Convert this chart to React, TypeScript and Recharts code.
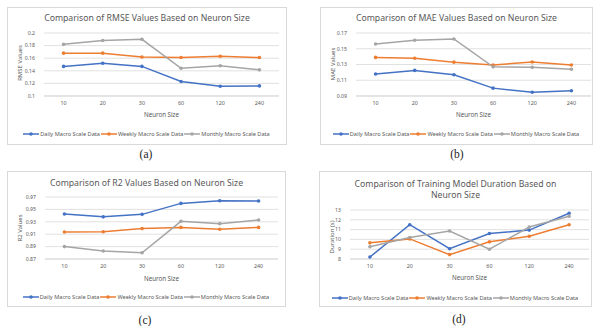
import React from 'react'
import { LineChart, Line, XAxis, YAxis, CartesianGrid } from 'recharts'

const neuronSizes = ['10', '20', '30', '60', '120', '240']
const seriesNames = ['Daily Macro Scale Data', 'Weekly Macro Scale Data', 'Monthly Macro Scale Data']

const rmseDaily = [0.147, 0.152, 0.147, 0.123, 0.1155, 0.116]
const rmseWeekly = [0.168, 0.168, 0.162, 0.161, 0.163, 0.161]
const rmseMonthly = [0.182, 0.188, 0.19, 0.144, 0.148, 0.1415]
const rmseTicks = [0.1, 0.12, 0.14, 0.16, 0.18, 0.2]

const maeDaily = [0.118, 0.1225, 0.117, 0.1, 0.0947, 0.0967]
const maeWeekly = [0.139, 0.138, 0.133, 0.1294, 0.1332, 0.1294]
const maeMonthly = [0.156, 0.1607, 0.1624, 0.127, 0.1264, 0.124]
const maeTicks = [0.09, 0.11, 0.13, 0.15, 0.17]

const r2Daily = [0.9425, 0.938, 0.942, 0.9597, 0.964, 0.9635]
const r2Weekly = [0.9135, 0.914, 0.919, 0.921, 0.918, 0.921]
const r2Monthly = [0.89, 0.883, 0.88, 0.9307, 0.927, 0.933]
const r2Ticks = [0.87, 0.89, 0.91, 0.93, 0.95, 0.97]

const durDaily = [8.2, 11.5, 9.05, 10.6, 10.95, 12.67]
const durWeekly = [9.65, 10.05, 8.45, 9.75, 10.32, 11.5]
const durMonthly = [9.25, 10.2, 10.85, 9.0, 11.26, 12.37]
const durTicks = [8, 9, 10, 11, 12, 13]

const COLORS = ['#4472C4', '#ED7D31', '#A5A5A5']
const TEXT = '#595959'
const GRID = '#D9D9D9'
const FONT = "'Noto Sans', sans-serif"

const build = (a: number[], b: number[], c: number[]) =>
  neuronSizes.map((size, i) => ({ size, daily: a[i], weekly: b[i], monthly: c[i] }))

interface PanelProps {
  left: number
  top: number
  width: number
  height: number
  title: string[]
  titleY: number
  yLabel: string
  yLabelY: number
  data: { size: string; daily: number; weekly: number; monthly: number }[]
  ticks: number[]
  plot: { left: number; right: number; top: number; bottom: number }
  xTitleY: number
  legendY: number
}

function Panel(p: PanelProps) {
  const xAxisH = 12
  const plotW = p.plot.right - p.plot.left
  const pad = plotW / 12
  const keys = ['daily', 'weekly', 'monthly']
  return (
    <div style={{ position: 'absolute', left: p.left, top: p.top, width: p.width, height: p.height }}>
      <div style={{ position: 'absolute', inset: 0, border: `1px solid ${GRID}` }} />
      {p.title.map((t, i) => (
        <div
          key={t}
          style={{
            position: 'absolute',
            left: 0,
            width: p.width,
            top: p.titleY + i * 11 - 6,
            lineHeight: '12px',
            textAlign: 'center',
            fontFamily: FONT,
            fontSize: 8.7,
            color: TEXT,
            whiteSpace: 'nowrap',
          }}
        >
          {t}
        </div>
      ))}
      <div style={{ position: 'absolute', left: 0, top: 0 }}>
        <LineChart
          width={p.width}
          height={p.height}
          data={p.data}
          margin={{ top: p.plot.top, right: p.width - p.plot.right, left: 0, bottom: p.height - p.plot.bottom - xAxisH }}
        >
          <CartesianGrid vertical={false} stroke={GRID} strokeWidth={0.8} />
          <XAxis
            dataKey="size"
            height={xAxisH}
            padding={{ left: pad, right: pad }}
            tickLine={false}
            tickSize={3}
            tickMargin={2}
            axisLine={{ stroke: GRID }}
            tick={{ fontSize: 5.4, fill: TEXT, fontFamily: FONT }}
            interval={0}
          />
          <YAxis
            width={p.plot.left}
            domain={[p.ticks[0], p.ticks[p.ticks.length - 1]]}
            ticks={p.ticks}
            interval={0}
            axisLine={false}
            tickLine={false}
            tickSize={6}
            tickMargin={3}
            tick={{ fontSize: 5.2, fill: TEXT, fontFamily: FONT }}
            tickFormatter={(v: number) => String(v)}
          />
          {keys.map((k, i) => (
            <Line
              key={k}
              dataKey={k}
              stroke={COLORS[i]}
              strokeWidth={1.5}
              dot={{ r: 1.8, fill: COLORS[i], stroke: 'none' }}
              isAnimationActive={false}
            />
          ))}
        </LineChart>
      </div>
      <div
        style={{
          position: 'absolute',
          left: 13,
          top: p.yLabelY,
          transform: 'translate(-50%, -50%) rotate(-90deg)',
          fontFamily: FONT,
          fontSize: 6,
          lineHeight: '7px',
          color: TEXT,
          whiteSpace: 'nowrap',
        }}
      >
        {p.yLabel}
      </div>
      <div
        style={{
          position: 'absolute',
          left: p.plot.left,
          width: plotW,
          top: p.xTitleY - 5,
          lineHeight: '10px',
          textAlign: 'center',
          fontFamily: FONT,
          fontSize: 6.2,
          color: TEXT,
        }}
      >
        Neuron Size
      </div>
      <div
        style={{
          position: 'absolute',
          left: 0,
          width: p.width,
          top: p.legendY - 4,
          height: 8,
          display: 'flex',
          justifyContent: 'center',
          alignItems: 'center',
          fontFamily: FONT,
          fontSize: 5.6,
          color: TEXT,
          whiteSpace: 'nowrap',
        }}
      >
        {seriesNames.map((n, i) => (
          <span key={n} style={{ display: 'flex', alignItems: 'center', marginRight: 1 }}>
            <svg width={16} height={6} style={{ marginRight: 1 }}>
              <line x1={0} y1={3} x2={16} y2={3} stroke={COLORS[i]} strokeWidth={1.5} />
              <circle cx={8} cy={3} r={1.8} fill={COLORS[i]} />
            </svg>
            {n}
          </span>
        ))}
      </div>
    </div>
  )
}

function Caption({ x, y, text }: { x: number; y: number; text: string }) {
  return (
    <div
      style={{
        position: 'absolute',
        left: x,
        top: y,
        transform: 'translate(-50%, -50%)',
        fontFamily: "'Liberation Serif', serif",
        fontSize: 11.5,
        color: '#222',
      }}
    >
      {text}
    </div>
  )
}

export default function App() {
  return (
    <div style={{ position: 'absolute', left: 0, top: 0, width: 594, height: 326, background: '#fff', overflow: 'hidden' }}>
      <Panel
        left={7}
        top={7}
        width={280}
        height={138}
        title={['Comparison of RMSE Values Based on Neuron Size']}
        titleY={11}
        yLabel="RMSE Values"
        yLabelY={56}
        data={build(rmseDaily, rmseWeekly, rmseMonthly)}
        ticks={rmseTicks}
        plot={{ left: 37, right: 272, top: 26, bottom: 89 }}
        xTitleY={108}
        legendY={127}
      />
      <Panel
        left={320}
        top={7}
        width={273}
        height={138}
        title={['Comparison of MAE Values Based on Neuron Size']}
        titleY={11}
        yLabel="MAE Values"
        yLabelY={57}
        data={build(maeDaily, maeWeekly, maeMonthly)}
        ticks={maeTicks}
        plot={{ left: 36, right: 271, top: 26, bottom: 89 }}
        xTitleY={108}
        legendY={127}
      />
      <Panel
        left={7}
        top={171}
        width={279}
        height={136}
        title={['Comparison of R2 Values Based on Neuron Size']}
        titleY={12}
        yLabel="R2 Values"
        yLabelY={57}
        data={build(r2Daily, r2Weekly, r2Monthly)}
        ticks={r2Ticks}
        plot={{ left: 38, right: 271, top: 26, bottom: 88 }}
        xTitleY={108}
        legendY={126}
      />
      <Panel
        left={319}
        top={171}
        width={273}
        height={136}
        title={['Comparison of Training Model Duration Based on', 'Neuron Size']}
        titleY={13}
        yLabel="Duration (s)"
        yLabelY={66}
        data={build(durDaily, durWeekly, durMonthly)}
        ticks={durTicks}
        plot={{ left: 31, right: 270, top: 39, bottom: 88 }}
        xTitleY={107}
        legendY={127}
      />
      <Caption x={146} y={154} text="(a)" />
      <Caption x={457} y={154} text="(b)" />
      <Caption x={145} y={320} text="(c)" />
      <Caption x={459} y={319} text="(d)" />
    </div>
  )
}
